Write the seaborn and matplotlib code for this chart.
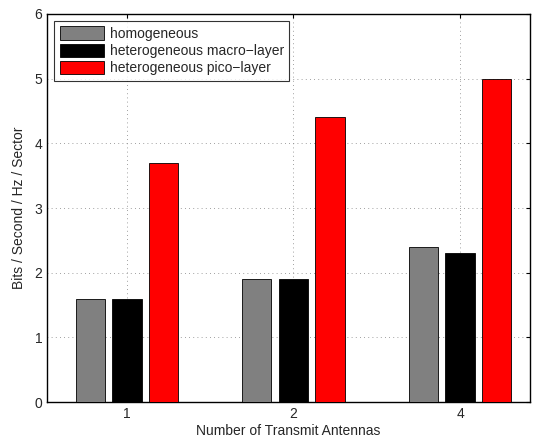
import matplotlib
matplotlib.use("Agg")
import matplotlib.pyplot as plt
import seaborn as sns
import pandas as pd

# data
antennas = ["1", "2", "4"]
homogeneous = [1.6, 1.9, 2.4]
macro_layer = [1.6, 1.9, 2.3]
pico_layer = [3.7, 4.4, 5.0]
series_names = ["homogeneous", "heterogeneous macro\u2212layer", "heterogeneous pico\u2212layer"]
colors = ["#808080", "#000000", "#ff0000"]

rows = []
for name, vals in zip(series_names, [homogeneous, macro_layer, pico_layer]):
    for a, v in zip(antennas, vals):
        rows.append({"antennas": a, "value": v, "series": name})
df = pd.DataFrame(rows)

sns.set_style("white")
plt.rcParams['font.family'] = ['Liberation Sans', 'DejaVu Sans']

fig = plt.figure(figsize=(5.36, 4.37), dpi=100)
ax = fig.add_axes([0.0877, 0.080, 0.901, 0.888])

sns.barplot(data=df, x="antennas", y="value", hue="series", palette=colors,
            saturation=1, width=0.66, gap=0.2, edgecolor="black", linewidth=0.6,
            errorbar=None, ax=ax, zorder=3)

ax.set_xlim(-0.48, 2.42)
ax.set_ylim(0, 6)
ax.set_yticks(range(0, 7))
ax.set_xlabel("Number of Transmit Antennas", fontsize=10, labelpad=2)
ax.set_ylabel("Bits / Second / Hz / Sector", fontsize=10, labelpad=6)
ax.tick_params(direction="in", top=True, right=True, length=3, labelsize=10, color="black")
ax.grid(True, linestyle=(0, (1, 4)), color="#808080", linewidth=0.6)
ax.set_axisbelow(True)
for s in ax.spines.values():
    s.set_color("black")
    s.set_linewidth(1.0)

leg = ax.legend(loc="upper left", fontsize=10, frameon=True, fancybox=False,
                edgecolor="black", handlelength=3.2, handleheight=1.1,
                borderaxespad=0.5, labelspacing=0.2, handletextpad=0.4,
                borderpad=0.4)
leg.get_frame().set_linewidth(0.8)
leg.set_title(None)

fig.savefig("out.png", dpi=100)
